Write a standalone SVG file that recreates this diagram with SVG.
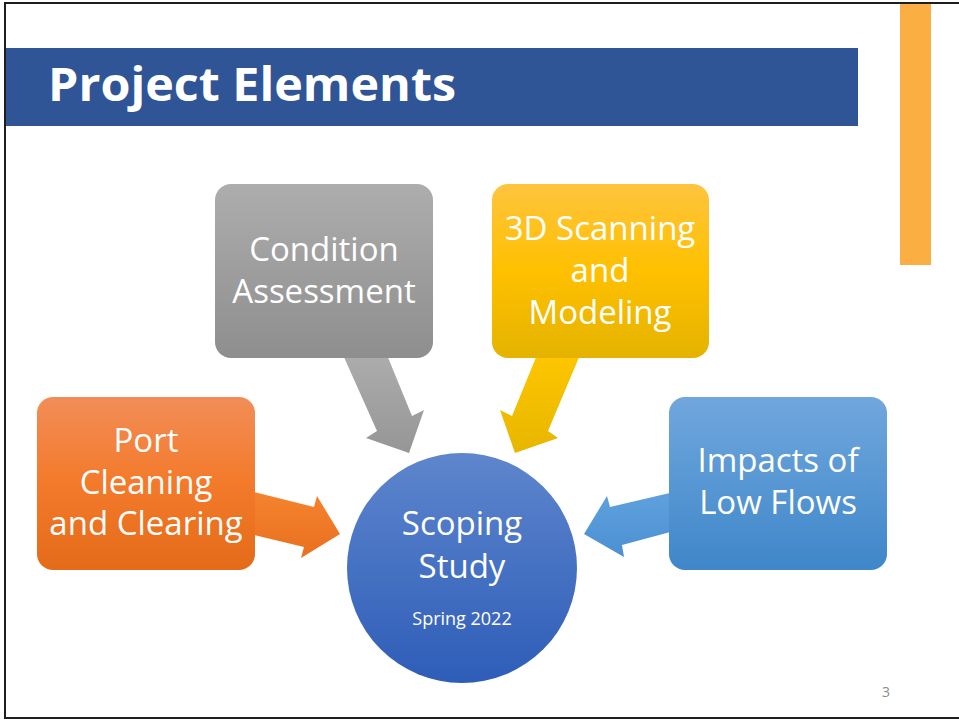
<svg xmlns="http://www.w3.org/2000/svg" width="959" height="721" viewBox="0 0 959 721">
  <defs>
    <linearGradient id="gGray" x1="0" y1="0" x2="0" y2="1"><stop offset="0" stop-color="#adadad"/><stop offset="1" stop-color="#8e8e8e"/></linearGradient>
    <linearGradient id="gYellow" x1="0" y1="0" x2="0" y2="1"><stop offset="0" stop-color="#fec43e"/><stop offset="0.5" stop-color="#ffc000"/><stop offset="1" stop-color="#e4b300"/></linearGradient>
    <linearGradient id="gOrange" x1="0" y1="0" x2="0" y2="1"><stop offset="0" stop-color="#f28d58"/><stop offset="0.5" stop-color="#f37a2a"/><stop offset="1" stop-color="#e46b19"/></linearGradient>
    <linearGradient id="gBlue" x1="0" y1="0" x2="0" y2="1"><stop offset="0" stop-color="#70a7dd"/><stop offset="1" stop-color="#3f87c9"/></linearGradient>
    <linearGradient id="gCircle" x1="0" y1="0" x2="0" y2="1"><stop offset="0" stop-color="#5e86cd"/><stop offset="1" stop-color="#2e5db8"/></linearGradient>
    <linearGradient id="aGray" gradientUnits="userSpaceOnUse" x1="0" y1="355" x2="0" y2="453"><stop offset="0" stop-color="#acacac"/><stop offset="1" stop-color="#969696"/></linearGradient>
    <linearGradient id="aYellow" gradientUnits="userSpaceOnUse" x1="0" y1="355" x2="0" y2="453"><stop offset="0" stop-color="#fec600"/><stop offset="1" stop-color="#e7b600"/></linearGradient>
    <linearGradient id="aOrange" gradientUnits="userSpaceOnUse" x1="0" y1="492" x2="0" y2="558"><stop offset="0" stop-color="#f5832e"/><stop offset="1" stop-color="#e9701f"/></linearGradient>
    <linearGradient id="aBlue" gradientUnits="userSpaceOnUse" x1="0" y1="493" x2="0" y2="557"><stop offset="0" stop-color="#5fa1dd"/><stop offset="1" stop-color="#4c90d3"/></linearGradient>
  </defs>
  <style>
    .lbl { font-family: "Open Sans", "Liberation Sans", sans-serif; font-size: 33px; fill: #ffffff; text-anchor: middle; }
    .title { font-family: "Open Sans", "Liberation Sans", sans-serif; font-size: 46px; font-weight: 700; fill: #ffffff; }
    .small { font-family: "Open Sans", "Liberation Sans", sans-serif; font-size: 18px; fill: #ffffff; text-anchor: middle; }
    .pg { font-family: "Open Sans", "Liberation Sans", sans-serif; font-size: 14px; fill: #8c8c8c; text-anchor: middle; }
  </style>
  <rect x="0" y="0" width="959" height="721" fill="#ffffff"/>
  <rect x="5" y="3" width="970" height="715" fill="none" stroke="#1e1e1e" stroke-width="2"/>
  <rect id="accent-bar" x="900" y="4" width="31" height="261" fill="#fbae42"/>
  <g id="title">
    <rect x="6" y="48" width="852" height="78" fill="#2f5597"/>
    <text class="title" x="48" y="101" textLength="408" lengthAdjust="spacingAndGlyphs">Project Elements</text>
  </g>
  <g id="connectors">
    <polygon points="343,355 387,355 412,416 424,410 409,453 366,438 377,431" fill="url(#aGray)"/>
    <polygon points="537,355 580,355 548,431 558,438 515,453 500,410 512,416" fill="url(#aYellow)"/>
    <polygon points="250,491 314,507 317,496 340,534 301,558 304,547 250,534" fill="url(#aOrange)"/>
    <polygon points="674,492 610,507 607,496 584,534 624,557 622,545 674,531" fill="url(#aBlue)"/>
  </g>
  <g id="condition-assessment">
    <rect x="215" y="184" width="218" height="174" rx="16" fill="url(#gGray)"/>
    <text class="lbl" x="324" y="261">Condition</text>
    <text class="lbl" x="324" y="303">Assessment</text>
  </g>
  <g id="scanning-modeling">
    <rect x="492" y="184" width="217" height="174" rx="16" fill="url(#gYellow)"/>
    <text class="lbl" x="600" y="240">3D Scanning</text>
    <text class="lbl" x="600" y="282">and</text>
    <text class="lbl" x="600" y="324">Modeling</text>
  </g>
  <g id="port-cleaning">
    <rect x="37" y="397" width="218" height="173" rx="16" fill="url(#gOrange)"/>
    <text class="lbl" x="146" y="452">Port</text>
    <text class="lbl" x="146" y="494">Cleaning</text>
    <text class="lbl" x="146" y="535">and Clearing</text>
  </g>
  <g id="low-flows">
    <rect x="669" y="397" width="218" height="173" rx="16" fill="url(#gBlue)"/>
    <text class="lbl" x="778" y="472">Impacts of</text>
    <text class="lbl" x="778" y="514">Low Flows</text>
  </g>
  <g id="scoping-study">
    <circle cx="462" cy="568" r="115" fill="url(#gCircle)"/>
    <text class="lbl" x="462" y="535">Scoping</text>
    <text class="lbl" x="462" y="578">Study</text>
    <text class="small" x="462" y="625">Spring 2022</text>
  </g>
  <text class="pg" x="886" y="697">3</text>
</svg>
